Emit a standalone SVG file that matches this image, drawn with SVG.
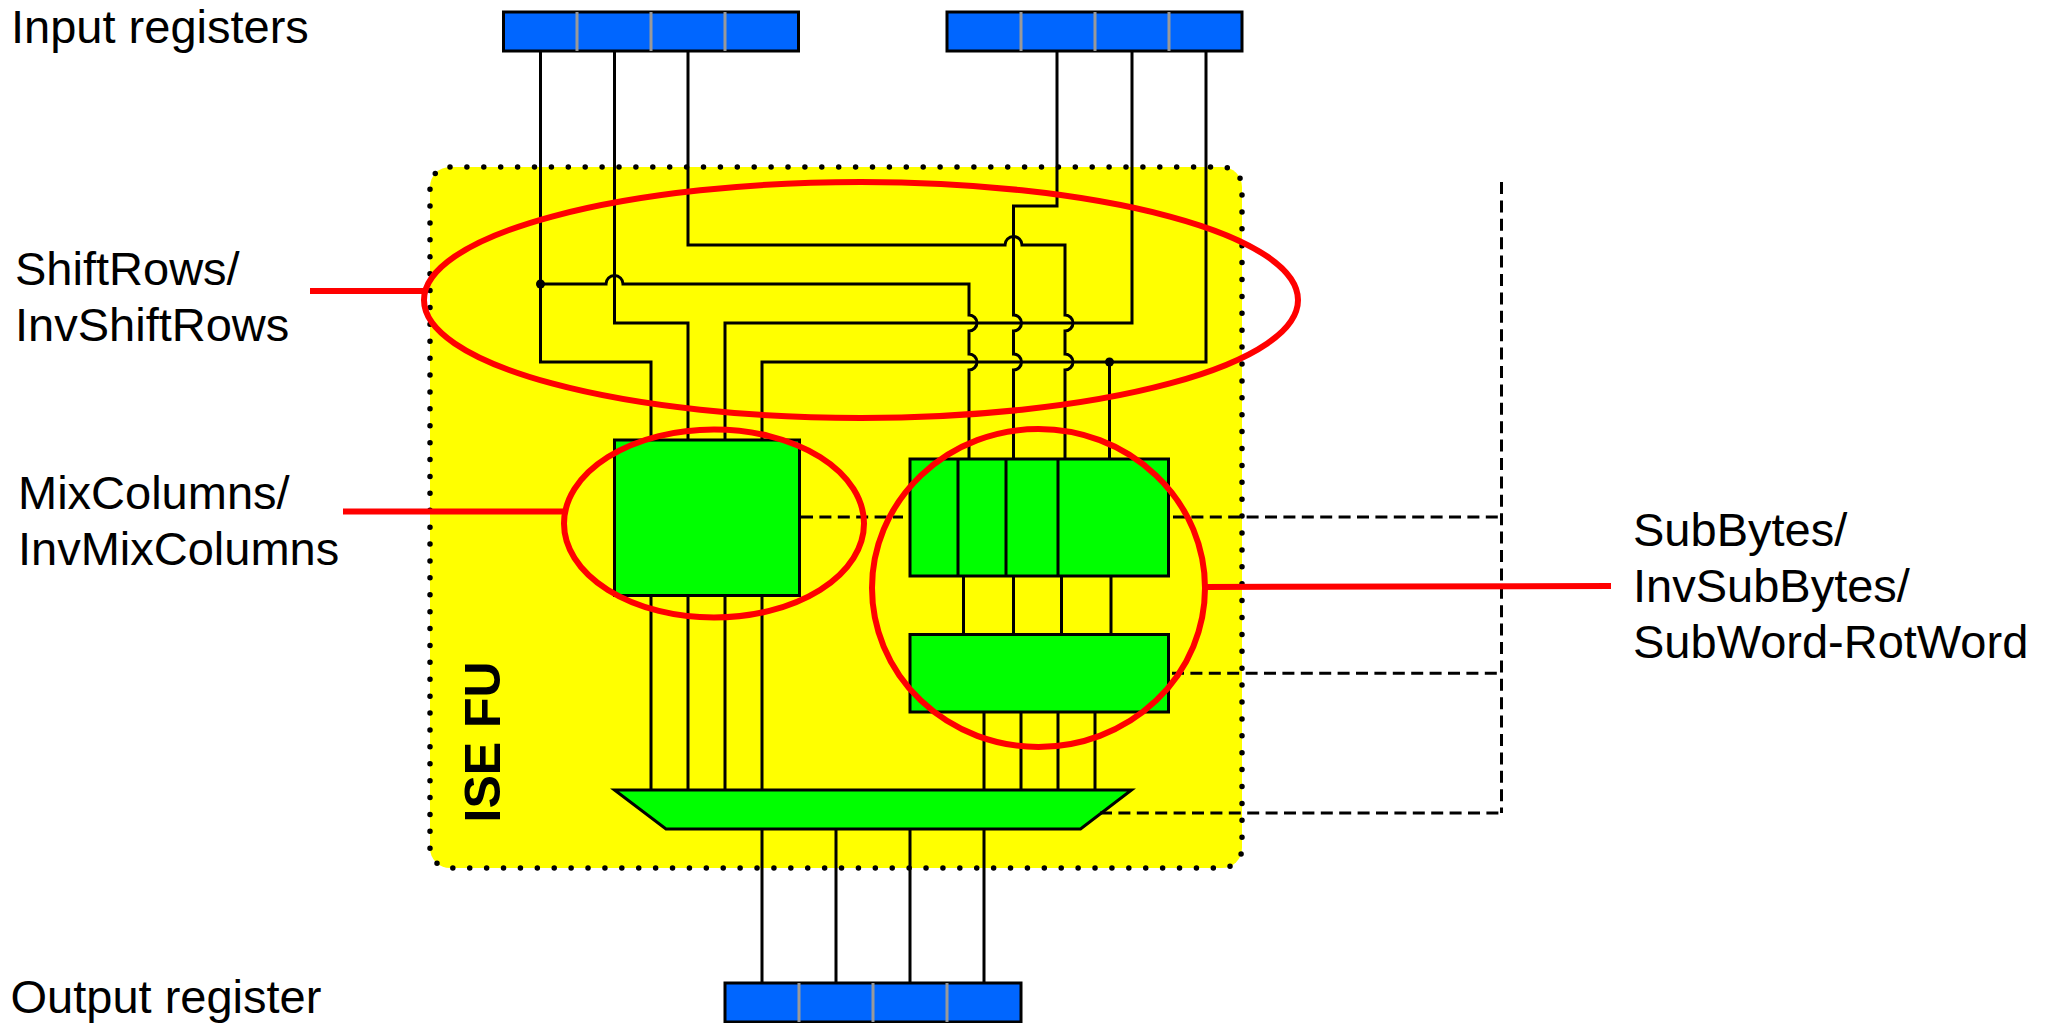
<svg xmlns="http://www.w3.org/2000/svg" width="2054" height="1023" viewBox="0 0 2054 1023">
<style>
.w{fill:none;stroke:#000;stroke-width:3}
.d{fill:none;stroke:#000;stroke-width:3;stroke-dasharray:12 6.400}
.r{fill:none;stroke:#f00;stroke-width:6}
.g{fill:#0f0;stroke:#000;stroke-width:3}
.b{fill:#06f;stroke:#000;stroke-width:3}
.s{stroke:#999;stroke-width:3;fill:none}
.t{font-family:"Liberation Sans",Arial,sans-serif;font-size:47px;fill:#000}
.i{font-family:"Liberation Sans",Arial,sans-serif;font-size:50px;font-weight:bold;fill:#000}
</style>
<rect width="2054" height="1023" fill="#fff"/>
<g id="ise-fu">
<rect x="430" y="167" width="812" height="701" rx="20" fill="#ff0"/>
<rect x="430" y="167" width="812" height="701" rx="20" fill="none" stroke="#000" stroke-width="5.500" stroke-linecap="round" stroke-dasharray="0 16.900"/>
<text class="i" transform="translate(500,822.500) rotate(-90)">ISE FU</text>
</g>
<g id="reg-in-1"><rect class="b" x="503.500" y="12" width="295" height="39"/><path class="s" d="M577 12V51M651 12V51M725 12V51"/></g>
<g id="reg-in-2"><rect class="b" x="947" y="12" width="295" height="39"/><path class="s" d="M1021 12V51M1095 12V51M1169 12V51"/></g>
<g id="reg-out"><rect class="b" x="725" y="983" width="296" height="39"/><path class="s" d="M799 983V1022M873 983V1022M947 983V1022"/></g>
<g id="mix"><rect class="g" x="614.500" y="440" width="185" height="155.500"/></g>
<g id="sub-top"><rect class="g" x="910" y="459" width="258.500" height="117"/><path class="w" d="M958 459V576M1006 459V576M1058 459V576"/></g>
<g id="sub-bot"><rect class="g" x="910" y="634.500" width="258.500" height="77.500"/></g>
<g id="mux"><path class="g" d="M614.500 790H1131.500L1080.500 829H666Z"/></g>
<g id="connectors">
<path class="w" d="M540.500 51V362H651V440"/>
<path class="w" d="M614.500 51V323H688V440"/>
<path class="w" d="M688 51V245H1005a8.500 8.500 0 0 1 17 0H1065V315a8 8 0 0 1 0 16V354a8 8 0 0 1 0 16V459"/>
<path class="w" d="M1057 51V206H1013.500V315a8 8 0 0 1 0 16V354a8 8 0 0 1 0 16V459"/>
<path class="w" d="M540.500 284H606a8.500 8.500 0 0 1 17 0H969V315a8 8 0 0 1 0 16V354a8 8 0 0 1 0 16V459"/>
<path class="w" d="M1132 51V323H725V440"/>
<path class="w" d="M1206 51V362H762V440"/>
<path class="w" d="M1109.500 362V459"/>
<circle cx="540.500" cy="284" r="4.500"/><circle cx="1109.500" cy="362" r="4.500"/>
<path class="w" d="M651 595V790M688 595V790M725 595V790M762 595V790"/>
<path class="w" d="M963.500 576V634M1013.500 576V634M1061.500 576V634M1111 576V634"/>
<path class="w" d="M984 712V790M1021 712V790M1058 712V790M1095 712V790"/>
<path class="w" d="M762 829V983M836 829V983M910 829V983M984 829V983"/>
<path class="d" d="M1501.500 182V813M801 517H903M1173 517H1501.500M1172 673.300H1501.500M1100 813H1501.500"/>
</g>
<g id="red">
<ellipse class="r" cx="861" cy="300" rx="437" ry="118"/>
<ellipse class="r" cx="714" cy="523.500" rx="150" ry="94"/>
<ellipse class="r" cx="1038.500" cy="588" rx="166.500" ry="159"/>
<path class="r" d="M310 291H423M343 511.500H565M1205 587L1611 586"/>
</g>
<g id="labels">
<text class="t" x="11" y="43">Input registers</text>
<text class="t" x="15" y="285">ShiftRows/</text>
<text class="t" x="15" y="341">InvShiftRows</text>
<text class="t" x="18" y="509">MixColumns/</text>
<text class="t" x="18" y="565">InvMixColumns</text>
<text class="t" x="1633" y="546">SubBytes/</text>
<text class="t" x="1633" y="602">InvSubBytes/</text>
<text class="t" x="1633" y="658">SubWord-RotWord</text>
<text class="t" x="10.500" y="1013">Output register</text>
</g>
</svg>
